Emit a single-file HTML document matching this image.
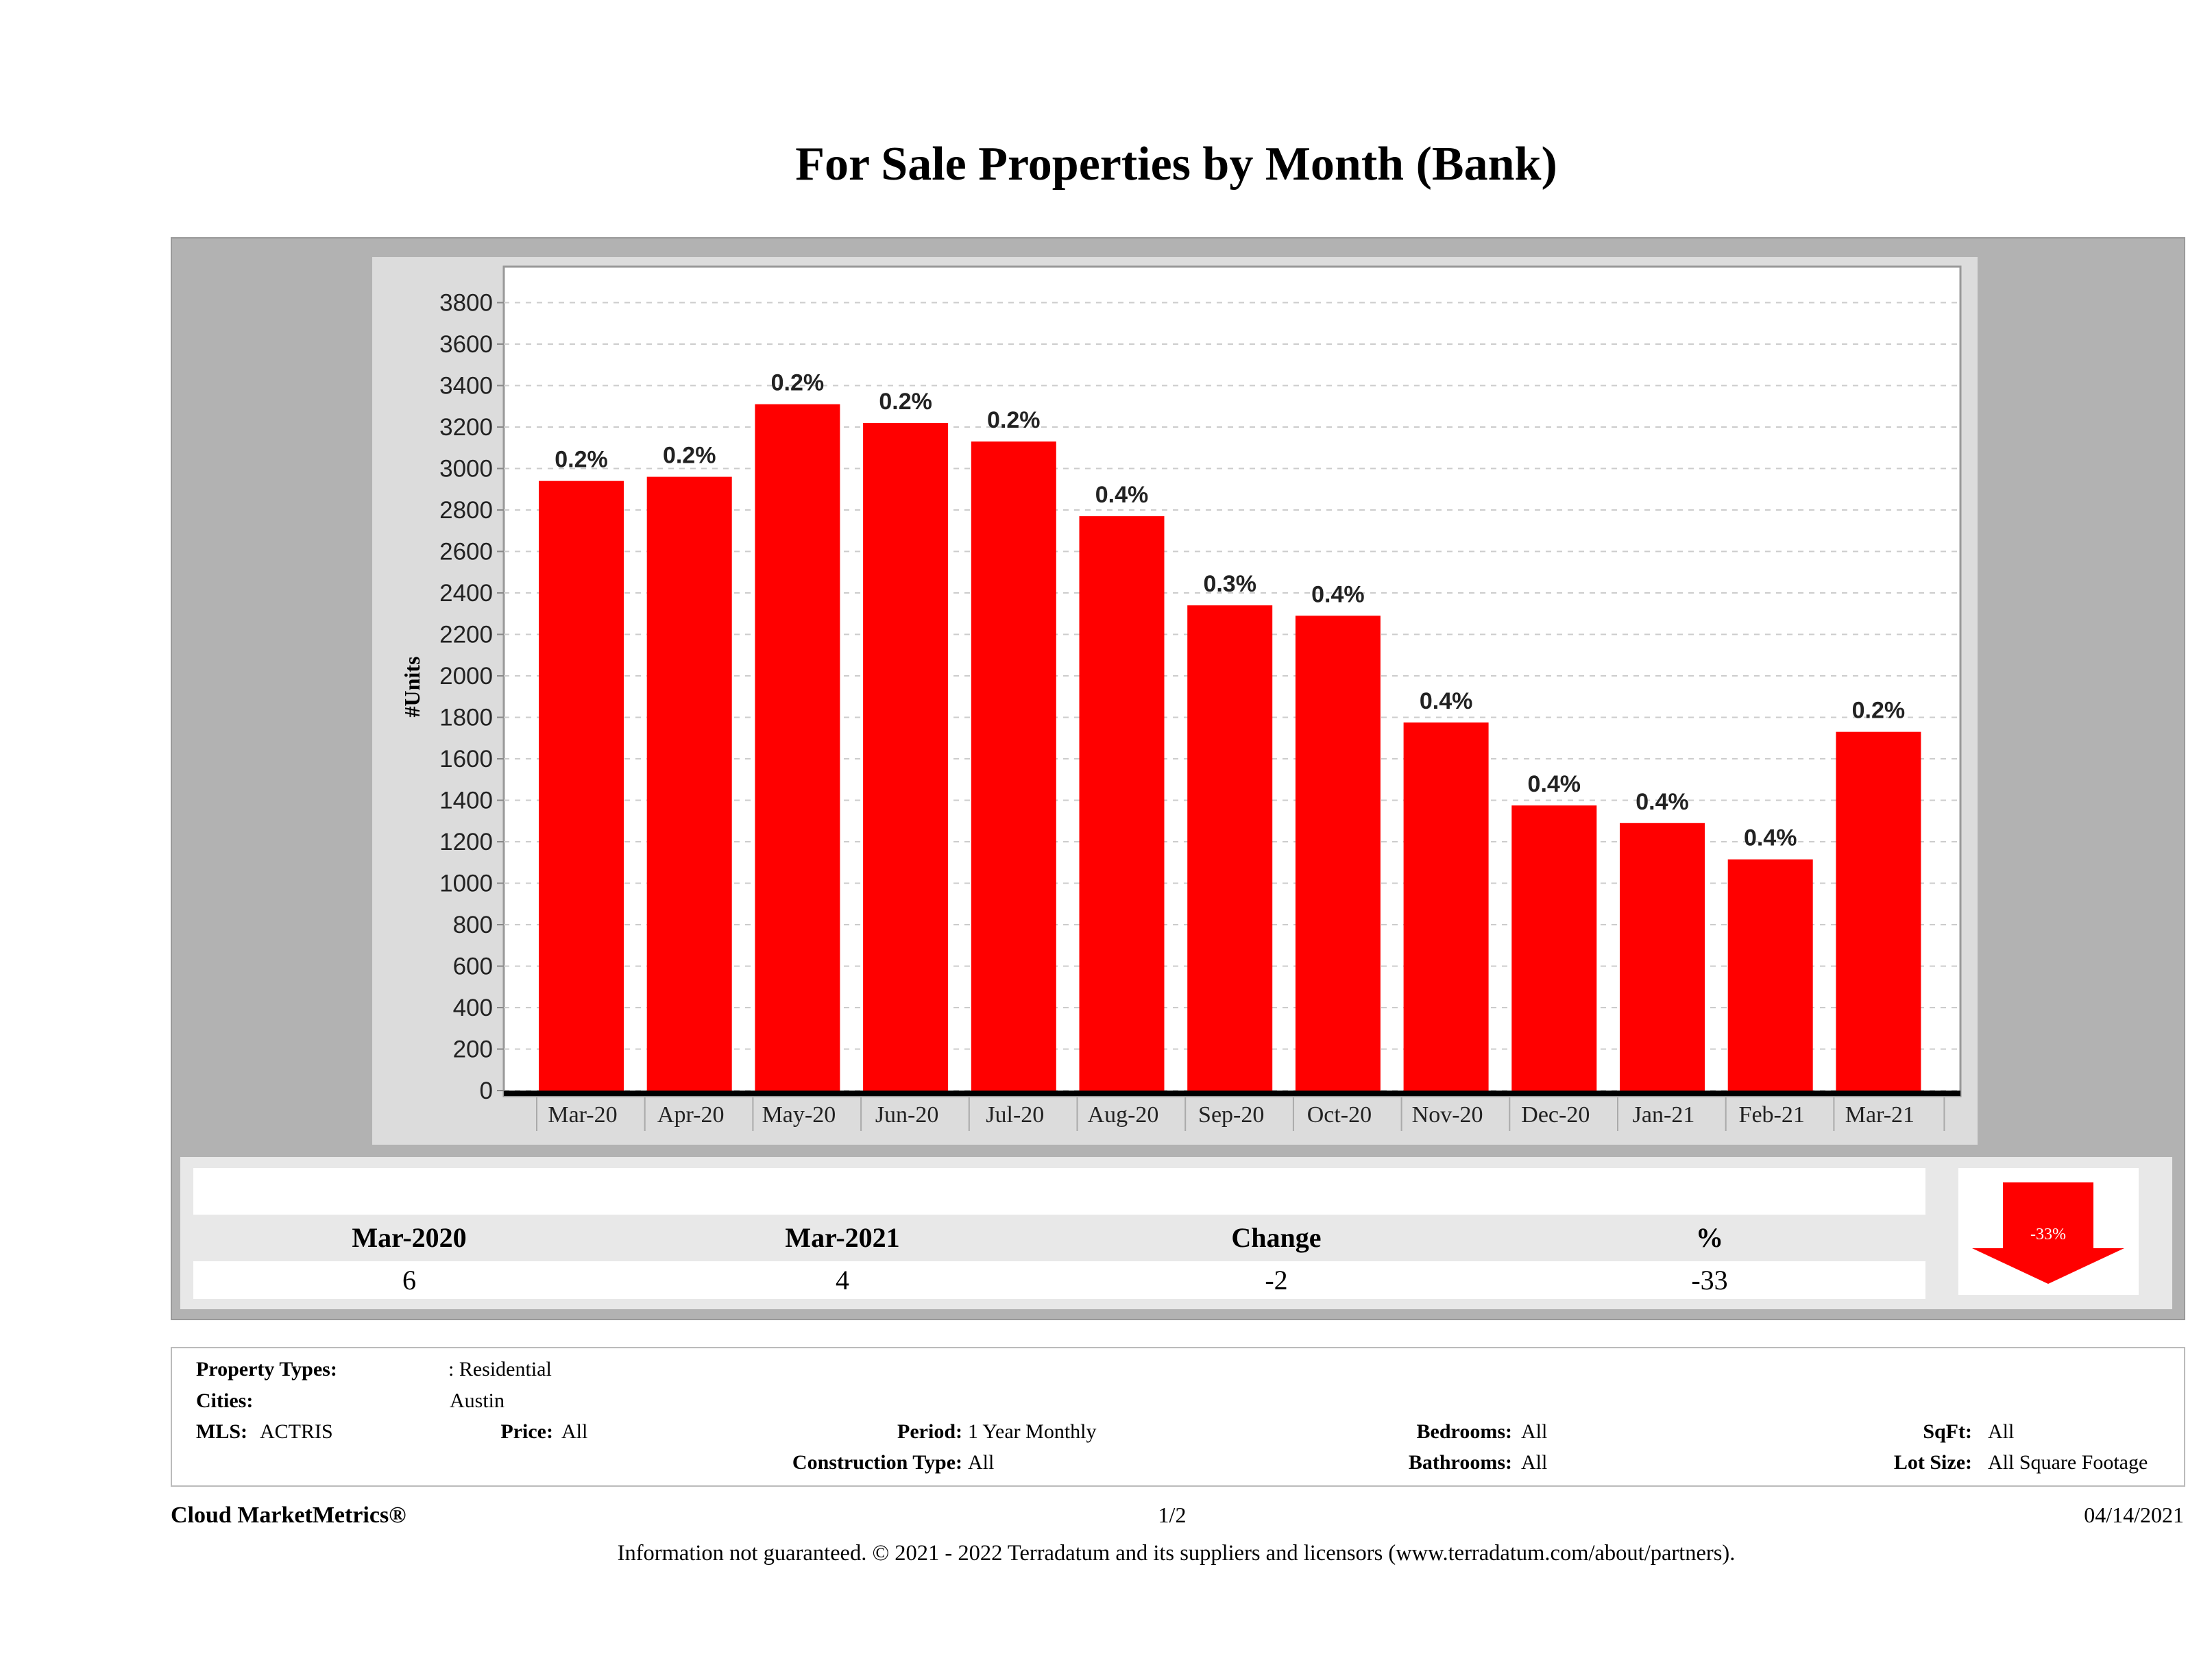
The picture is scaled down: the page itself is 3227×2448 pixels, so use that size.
<!DOCTYPE html>
<html><head><meta charset="utf-8"><style>
body{margin:0;width:3227px;height:2448px;background:#fff;position:relative;overflow:hidden;font-family:"Liberation Serif",serif;color:#000}
.a{position:absolute;white-space:nowrap}
.b{font-weight:bold}
.info{font-size:30px}
</style></head><body>
<div class="a b" style="left:0;width:3432px;top:200px;text-align:center;font-size:70px">For Sale Properties by Month (Bank)</div>
<div class="a" style="left:249px;top:346px;width:2935px;height:1576px;background:#b2b2b2;border:2px solid #999"></div>
<svg class="a" style="left:0;top:0" width="3227" height="1700" id="chart"></svg>
<div class="a" style="left:263px;top:1688px;width:2906px;height:222px;background:#e8e8e8"></div>
<div class="a" style="left:282px;top:1704px;width:2527px;height:68px;background:#fff"></div>
<div class="a" style="left:282px;top:1840px;width:2527px;height:55px;background:#fff"></div>
<div class="a b" style="left:447px;width:300px;text-align:center;top:1782px;font-size:40px">Mar-2020</div>
<div class="a b" style="left:1079px;width:300px;text-align:center;top:1782px;font-size:40px">Mar-2021</div>
<div class="a b" style="left:1712px;width:300px;text-align:center;top:1782px;font-size:40px">Change</div>
<div class="a b" style="left:2344px;width:300px;text-align:center;top:1782px;font-size:40px">%</div>
<div class="a" style="left:447px;width:300px;text-align:center;top:1844px;font-size:40px">6</div>
<div class="a" style="left:1079px;width:300px;text-align:center;top:1844px;font-size:40px">4</div>
<div class="a" style="left:1712px;width:300px;text-align:center;top:1844px;font-size:40px">-2</div>
<div class="a" style="left:2344px;width:300px;text-align:center;top:1844px;font-size:40px">-33</div>
<svg class="a" style="left:2857px;top:1704px" width="263" height="185">
<rect width="263" height="185" fill="#fff"/>
<polygon points="65,21 197,21 197,117 242,117 131,169 20,117 65,117" fill="#f00"/>
<text x="131" y="104" text-anchor="middle" font-size="24" fill="#fff" font-family="Liberation Serif,serif">-33%</text>
</svg>
<div class="a" style="left:249px;top:1965px;width:2935px;height:200px;border:2px solid #bbb"></div>
<div class="a info b" style="left:286px;top:1981px">Property Types:</div>
<div class="a info" style="left:654px;top:1981px">: Residential</div>
<div class="a info b" style="left:286px;top:2027px">Cities:</div>
<div class="a info" style="left:656px;top:2027px">Austin</div>
<div class="a info b" style="left:286px;top:2072px">MLS:</div>
<div class="a info" style="left:379px;top:2072px">ACTRIS</div>
<div class="a info b" style="right:2420px;top:2072px">Price:</div>
<div class="a info" style="left:819px;top:2072px">All</div>
<div class="a info b" style="right:1823px;top:2072px">Period:</div>
<div class="a info" style="left:1412px;top:2072px">1 Year Monthly</div>
<div class="a info b" style="right:1021px;top:2072px">Bedrooms:</div>
<div class="a info" style="left:2219px;top:2072px">All</div>
<div class="a info b" style="right:350px;top:2072px">SqFt:</div>
<div class="a info" style="left:2900px;top:2072px">All</div>
<div class="a info b" style="right:1823px;top:2117px">Construction Type:</div>
<div class="a info" style="left:1412px;top:2117px">All</div>
<div class="a info b" style="right:1021px;top:2117px">Bathrooms:</div>
<div class="a info" style="left:2219px;top:2117px">All</div>
<div class="a info b" style="right:350px;top:2117px">Lot Size:</div>
<div class="a info" style="left:2900px;top:2117px">All Square Footage</div>
<div class="a b" style="left:249px;top:2192px;font-size:34px">Cloud MarketMetrics®</div>
<div class="a" style="left:1610px;width:200px;text-align:center;top:2192px;font-size:32px">1/2</div>
<div class="a" style="right:41px;top:2192px;font-size:32px">04/14/2021</div>
<div class="a" style="left:0;width:3432px;text-align:center;top:2248px;font-size:32.5px">Information not guaranteed. © 2021 - 2022 Terradatum and its suppliers and licensors (www.terradatum.com/about/partners).</div>
<script>
const categories=["Mar-20","Apr-20","May-20","Jun-20","Jul-20","Aug-20","Sep-20","Oct-20","Nov-20","Dec-20","Jan-21","Feb-21","Mar-21"];
const units=[2940,2960,3310,3220,3130,2770,2340,2290,1775,1375,1290,1115,1730];
const pctLabels=["0.2%","0.2%","0.2%","0.2%","0.2%","0.4%","0.3%","0.4%","0.4%","0.4%","0.4%","0.4%","0.2%"];
const yTicks=[0,200,400,600,800,1000,1200,1400,1600,1800,2000,2200,2400,2600,2800,3000,3200,3400,3600,3800];
const NS="http://www.w3.org/2000/svg";
const svg=document.getElementById('chart');
const PL=735,PR=2860,PT=389,PB=1591;
const y=v=>PB-v*0.3025;
const step=157.7,x0=786,bw=124;
const x=i=>x0+i*step;
function mk(t,a,p){const e=document.createElementNS(NS,t);for(const k in a)e.setAttribute(k,a[k]);(p||svg).appendChild(e);return e;}
const panel=mk('rect',{x:543,y:375,width:2342,height:1295,fill:'#dcdcdc'});


const plot=mk('rect',{x:PL,y:PT,width:PR-PL,height:PB-PT+8,fill:'#fff',stroke:'#999','stroke-width':3});


yTicks.forEach(v=>{
  const g=mk('line',{x1:PL,x2:PR,y1:y(v),y2:y(v),stroke:'#ccc','stroke-width':2,'stroke-dasharray':'8,8'});
  
  
  mk('line',{x1:PL-10,x2:PL,y1:y(v),y2:y(v),stroke:'#888','stroke-width':2});
  const t=mk('text',{x:PL-16,y:y(v)+12,'text-anchor':'end','font-size':35,'font-family':'Liberation Sans,sans-serif',fill:'#222'});
  t.textContent=v;
  
  
});
categories.forEach((c,i)=>{
  const r=mk('rect',{x:x(i),y:y(units[i]),width:bw,height:PB-y(units[i]),fill:'#f00'});
  
  
  const l=mk('text',{x:x(i)+bw/2,y:y(units[i])-20,'text-anchor':'middle','font-size':34,'font-weight':'bold','font-family':'Liberation Sans,sans-serif',fill:'#222'});
  l.textContent=pctLabels[i];
  
  
  const xl=mk('text',{x:x(i)+bw/2+2,y:1637,'text-anchor':'middle','font-size':34,'font-family':'Liberation Serif,serif',fill:'#222'});
  xl.textContent=c;
  
  
  mk('line',{x1:x(i)-3,x2:x(i)-3,y1:PB+10,y2:1650,stroke:'#aaa','stroke-width':2});
});
mk('line',{x1:x(12)+bw+34,x2:x(12)+bw+34,y1:PB+10,y2:1650,stroke:'#aaa','stroke-width':2});
const ax=mk('line',{x1:PL,x2:PR,y1:PB+4,y2:PB+4,stroke:'#000','stroke-width':8});


const yt=mk('text',{x:0,y:0,transform:'translate(612,1002) rotate(-90)','text-anchor':'middle','font-size':32,'font-weight':'bold','font-family':'Liberation Serif,serif'});
yt.textContent='#Units';


</script>
</body></html>
